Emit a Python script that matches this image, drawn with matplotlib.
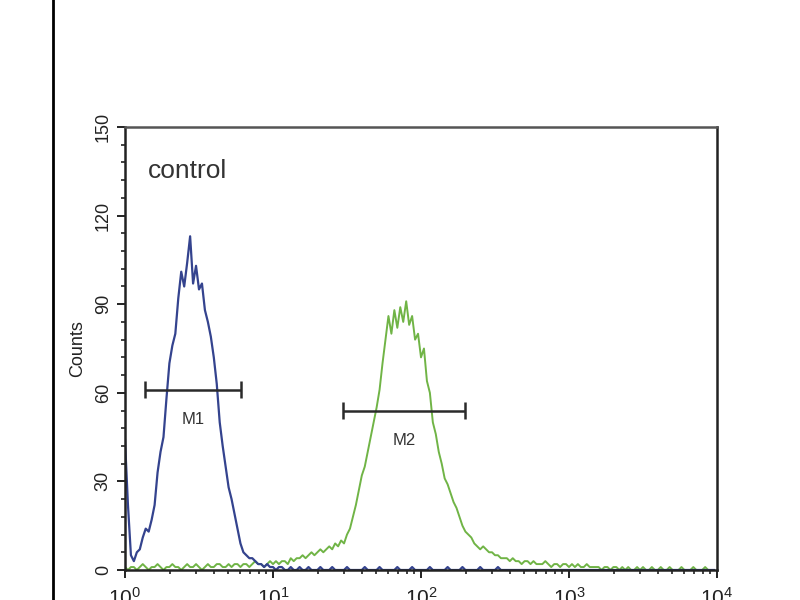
import matplotlib
matplotlib.use("Agg")
import matplotlib.pyplot as plt
import numpy as np
from matplotlib.lines import Line2D
from matplotlib.ticker import MultipleLocator, LogLocator, NullFormatter

plt.rcParams['font.family'] = ['Liberation Sans', 'DejaVu Sans']

# channel grid: 50 channels per decade, 10^0 .. 10^4
channels_per_decade = 50
n_channels = 200

# control (blue) histogram counts
blue_counts = [
    44, 22, 5, 3, 6, 7, 11, 14, 13, 17,
    22, 33, 40, 45, 58, 70, 76, 80, 92, 101,
    96, 104, 113, 97, 103, 95, 97, 88, 84, 79,
    72, 63, 50, 42, 35, 28, 24, 19, 14, 9,
    6, 5, 4, 4, 3, 2, 2, 1, 2, 1,
    1, 0, 1, 1, 0, 0, 1, 0, 0, 1,
    0, 0, 1, 0, 0, 0, 1, 0, 0, 0,
    1, 0, 0, 0, 0, 1, 0, 0, 0, 0,
    0, 1, 0, 0, 0, 0, 1, 0, 0, 0,
    0, 0, 1, 0, 0, 0, 0, 1, 0, 0,
    0, 0, 0, 1, 0, 0, 0, 0, 0, 1,
    0, 0, 0, 0, 1, 0, 0, 0, 0, 0,
    1, 0, 0, 0, 0, 0, 1, 0, 0, 0,
    0, 0, 0, 0, 0, 0, 0, 0, 0, 0,
    0, 0, 0, 0, 0, 0, 0, 0, 0, 0,
    0, 0, 0, 0, 0, 0, 0, 0, 0, 0,
    0, 0, 0, 0, 0, 0, 0, 0, 0, 0,
    0, 0, 0, 0, 0, 0, 0, 0, 0, 0,
    0, 0, 0, 0, 0, 0, 0, 0, 0, 0,
    0, 0, 0, 0, 0, 0, 0, 0, 0, 0,
]

# sample (green) histogram counts
green_counts = [
    1, 0, 1, 1, 0, 1, 2, 1, 0, 1,
    1, 2, 1, 0, 1, 1, 2, 1, 1, 0,
    1, 2, 1, 1, 2, 1, 0, 1, 2, 1,
    1, 2, 2, 1, 1, 2, 1, 2, 2, 1,
    2, 2, 1, 2, 3, 2, 2, 1, 2, 3,
    2, 3, 2, 3, 3, 2, 4, 3, 4, 4,
    5, 4, 5, 6, 5, 6, 7, 6, 7, 8,
    7, 9, 8, 10, 9, 12, 14, 18, 22, 27,
    32, 35, 40, 45, 50, 55, 61, 70, 78, 86,
    80, 88, 82, 89, 84, 91, 83, 86, 78, 80,
    72, 75, 64, 60, 50, 46, 40, 36, 31, 29,
    26, 23, 21, 18, 15, 13, 12, 11, 9, 8,
    7, 8, 7, 6, 6, 5, 5, 4, 4, 4,
    3, 4, 3, 3, 2, 3, 3, 2, 3, 2,
    2, 2, 3, 2, 1, 2, 2, 1, 2, 2,
    1, 2, 1, 2, 1, 1, 2, 1, 1, 1,
    1, 0, 1, 1, 0, 1, 1, 0, 1, 0,
    1, 0, 0, 1, 0, 1, 0, 0, 1, 0,
    0, 1, 0, 0, 1, 0, 0, 0, 1, 0,
    0, 0, 1, 0, 0, 0, 1, 0, 0, 0,
]

# marker gates
m1_range = (1.37, 6.1)
m1_level = 61
m2_range = (29.7, 198)
m2_level = 54

yticks = [0, 30, 60, 90, 120, 150]

x = 10 ** (np.arange(n_channels) / channels_per_decade)

fig = plt.figure(figsize=(8, 6), dpi=100)
ax = fig.add_axes([125 / 800, 30 / 600, 592 / 800, 443 / 600])

ax.plot(x, green_counts, color='#70b446', lw=1.4)
ax.plot(x, blue_counts, color='#34438e', lw=1.6)

# gates
gate_color = '#2a2a2a'
for (lo, hi), lvl, name in [(m1_range, m1_level, 'M1'), (m2_range, m2_level, 'M2')]:
    ax.hlines(lvl, lo, hi, color=gate_color, lw=1.8)
    ax.vlines([lo, hi], lvl - 2.9, lvl + 2.9, color=gate_color, lw=1.8)
    xm = np.sqrt(lo * hi)
    ax.text(xm, lvl - 10, name, ha='center', va='center', fontsize=12, color='#333333')

ax.text(1.43, 135, 'control', ha='left', va='center', fontsize=19, color='#333333')

ax.set_xscale('log')
ax.set_xlim(1, 1e4)
ax.set_ylim(0, 150)
ax.set_yticks(yticks)
ax.yaxis.set_minor_locator(MultipleLocator(6))
ax.xaxis.set_major_locator(LogLocator(base=10))
ax.xaxis.set_minor_locator(LogLocator(base=10, subs=np.arange(2, 10)))
ax.xaxis.set_minor_formatter(NullFormatter())

ax.tick_params(which='major', direction='out', length=6, width=1.4, colors='#222222',
               labelsize=13)
ax.tick_params(which='minor', direction='out', length=3, width=1.2, colors='#222222')
ax.tick_params(axis='x', labelsize=15, pad=6)
for lbl in ax.get_yticklabels():
    lbl.set_rotation(90)
    lbl.set_va('center')
ax.set_ylabel('Counts', fontsize=13, color='#222222', labelpad=6)

for s in ax.spines.values():
    s.set_linewidth(1.8)
    s.set_color('#222222')
ax.spines['top'].set_color('#555555')

# image border line on the left
fig.add_artist(Line2D([53 / 800, 53 / 800], [0, 1], color='black', lw=2))

fig.savefig('out.png', dpi=100)
